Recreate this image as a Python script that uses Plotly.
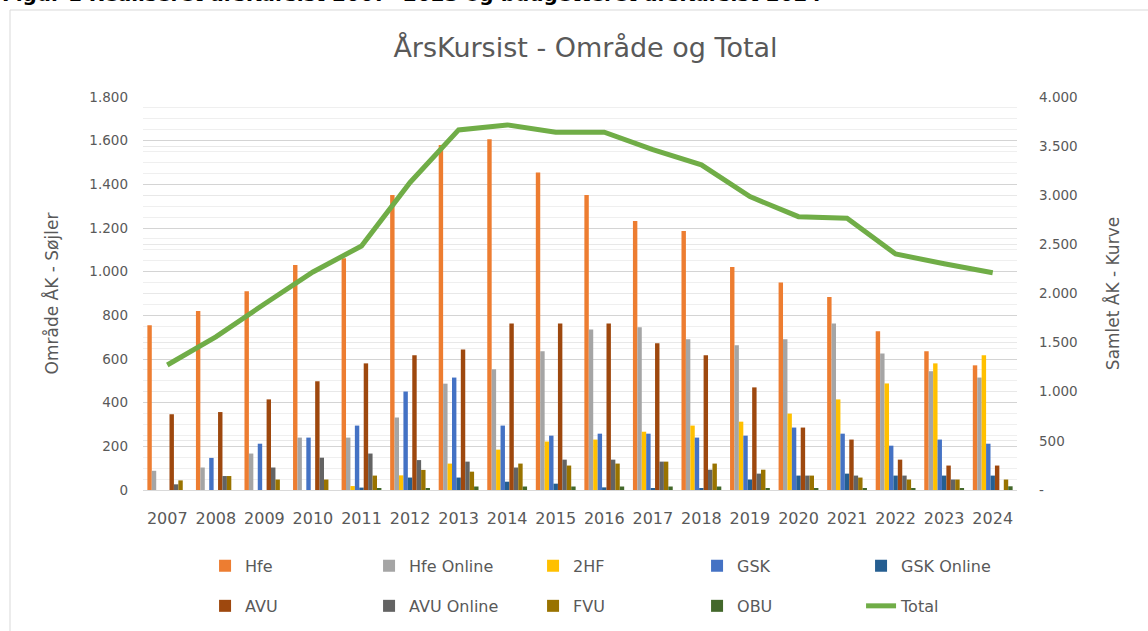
import plotly.graph_objects as go

years = [str(y) for y in range(2007, 2025)]

hfe = [755, 820, 910, 1030, 1061, 1351, 1580, 1606, 1454, 1351, 1232, 1186, 1021, 950, 884, 727, 635, 571]
hfe_online = [88, 103, 167, 240, 240, 332, 487, 553, 635, 735, 745, 690, 663, 690, 763, 625, 544, 515]
hf2 = [0, 0, 0, 0, 18, 67, 121, 185, 222, 231, 267, 295, 313, 350, 415, 488, 580, 617]
gsk = [0, 147, 212, 240, 295, 451, 515, 295, 249, 258, 258, 240, 249, 286, 258, 203, 231, 212]
gsk_online = [0, 0, 0, 0, 11, 57, 57, 38, 29, 12, 5, 5, 48, 66, 75, 66, 66, 66]
avu = [347, 357, 415, 498, 580, 617, 644, 763, 763, 763, 672, 617, 470, 286, 231, 139, 112, 112]
avu_online = [26, 64, 103, 148, 167, 137, 130, 103, 139, 139, 130, 93, 75, 66, 66, 66, 48, 0]
fvu = [44, 64, 48, 48, 66, 92, 84, 121, 112, 121, 130, 121, 93, 66, 57, 48, 48, 48]
obu = [0, 0, 0, 0, 5, 5, 16, 16, 16, 16, 16, 16, 5, 5, 5, 5, 5, 17]
total = [1272, 1558, 1893, 2219, 2484, 3130, 3665, 3716, 3641, 3641, 3464, 3309, 2986, 2782, 2766, 2402, 2303, 2212]

bar_series = [
    ("Hfe", hfe, "#ED7D31"),
    ("Hfe Online", hfe_online, "#A5A5A5"),
    ("2HF", hf2, "#FFC000"),
    ("GSK", gsk, "#4472C4"),
    ("GSK Online", gsk_online, "#255E91"),
    ("AVU", avu, "#9E480E"),
    ("AVU Online", avu_online, "#636363"),
    ("FVU", fvu, "#997300"),
    ("OBU", obu, "#43682B"),
]

left_tickvals = [0, 200, 400, 600, 800, 1000, 1200, 1400, 1600, 1800]
left_ticktext = ["0", "200", "400", "600", "800", "1.000", "1.200", "1.400", "1.600", "1.800"]
right_tickvals = [0, 500, 1000, 1500, 2000, 2500, 3000, 3500, 4000]
right_ticktext = ["-", "500", "1.000", "1.500", "2.000", "2.500", "3.000", "3.500", "4.000"]

FONT = "DejaVu Sans"
TXT = "#595959"

fig = go.Figure()
for i, (name, vals, col) in enumerate(bar_series):
    fig.add_trace(go.Bar(
        x=years, y=vals, name=name, marker=dict(color=col, line=dict(width=0)),
        legend="legend" if i < 5 else "legend2",
    ))
fig.add_trace(go.Scatter(
    x=years, y=total, name="Total", yaxis="y2", mode="lines",
    line=dict(color="#70AD47", width=5), legend="legend2",
))

legend_common = dict(
    orientation="h", xanchor="left", yanchor="middle",
    entrywidth=119, entrywidthmode="pixels",
    font=dict(family=FONT, size=16, color=TXT),
    bgcolor="rgba(0,0,0,0)", itemclick=False, itemdoubleclick=False,
)

fig.update_layout(
    width=1148, height=631,
    margin=dict(l=143, r=131, t=97, b=141, autoexpand=False),
    paper_bgcolor="white", plot_bgcolor="white",
    barmode="group", bargap=0.18, bargroupgap=0,
    font=dict(family=FONT, color=TXT),
    title=dict(text="ÅrsKursist - Område og Total", x=0.510, xanchor="center",
               y=1 - 48 / 631, yanchor="middle",
               font=dict(family=FONT, size=27, color=TXT)),
    xaxis=dict(
        type="category", showgrid=False, showline=True, linecolor="#D9D9D9", linewidth=1,
        ticks="", tickfont=dict(size=16, color=TXT), ticklabelstandoff=14, automargin=False,
    ),
    yaxis=dict(
        range=[0, 1800], tickvals=left_tickvals, ticktext=left_ticktext,
        showgrid=True, gridcolor="#D4D4D4", gridwidth=1,
        minor=dict(dtick=50, showgrid=True, gridcolor="#EFEFEF", gridwidth=1, tick0=0),
        zeroline=False, showline=False, ticks="", automargin=False,
        tickfont=dict(size=13.5, color=TXT), ticklabelstandoff=14,
        title=dict(text="Område ÅK - Søjler", font=dict(size=17, color=TXT), standoff=26),
    ),
    yaxis2=dict(
        range=[0, 4000], overlaying="y", side="right",
        tickvals=right_tickvals, ticktext=right_ticktext,
        showgrid=True, gridcolor="#E8E8E8", gridwidth=1,
        zeroline=False, showline=False, ticks="", automargin=False,
        tickfont=dict(size=13.5, color=TXT), ticklabelstandoff=21,
        title=dict(text="Samlet ÅK - Kurve", font=dict(size=17, color=TXT), standoff=30),
    ),
    legend=dict(x=0.071, y=-0.193, **legend_common),
    legend2=dict(x=0.071, y=-0.295, **legend_common),
    shapes=[dict(type="rect", xref="paper", yref="paper",
                 x0=-133 / 874, x1=1.2, y0=-0.5, y1=1 + 87 / 393,
                 line=dict(color="#D9D9D9", width=1), fillcolor="rgba(0,0,0,0)", layer="below")],
    annotations=[dict(text="<b>Figur 1 Realiseret årsKursist 2007- 2023 og budgetteret årsKursist 2024</b>",
                      xref="paper", yref="paper", x=-143 / 874, y=1 + 97 / 393, xanchor="left",
                      yanchor="bottom", yshift=-8, showarrow=False,
                      font=dict(family=FONT, size=20, color="#000000"))],
)

fig.write_html("out.html", config={"displayModeBar": False},
               post_script="document.body.style.margin='0';")
